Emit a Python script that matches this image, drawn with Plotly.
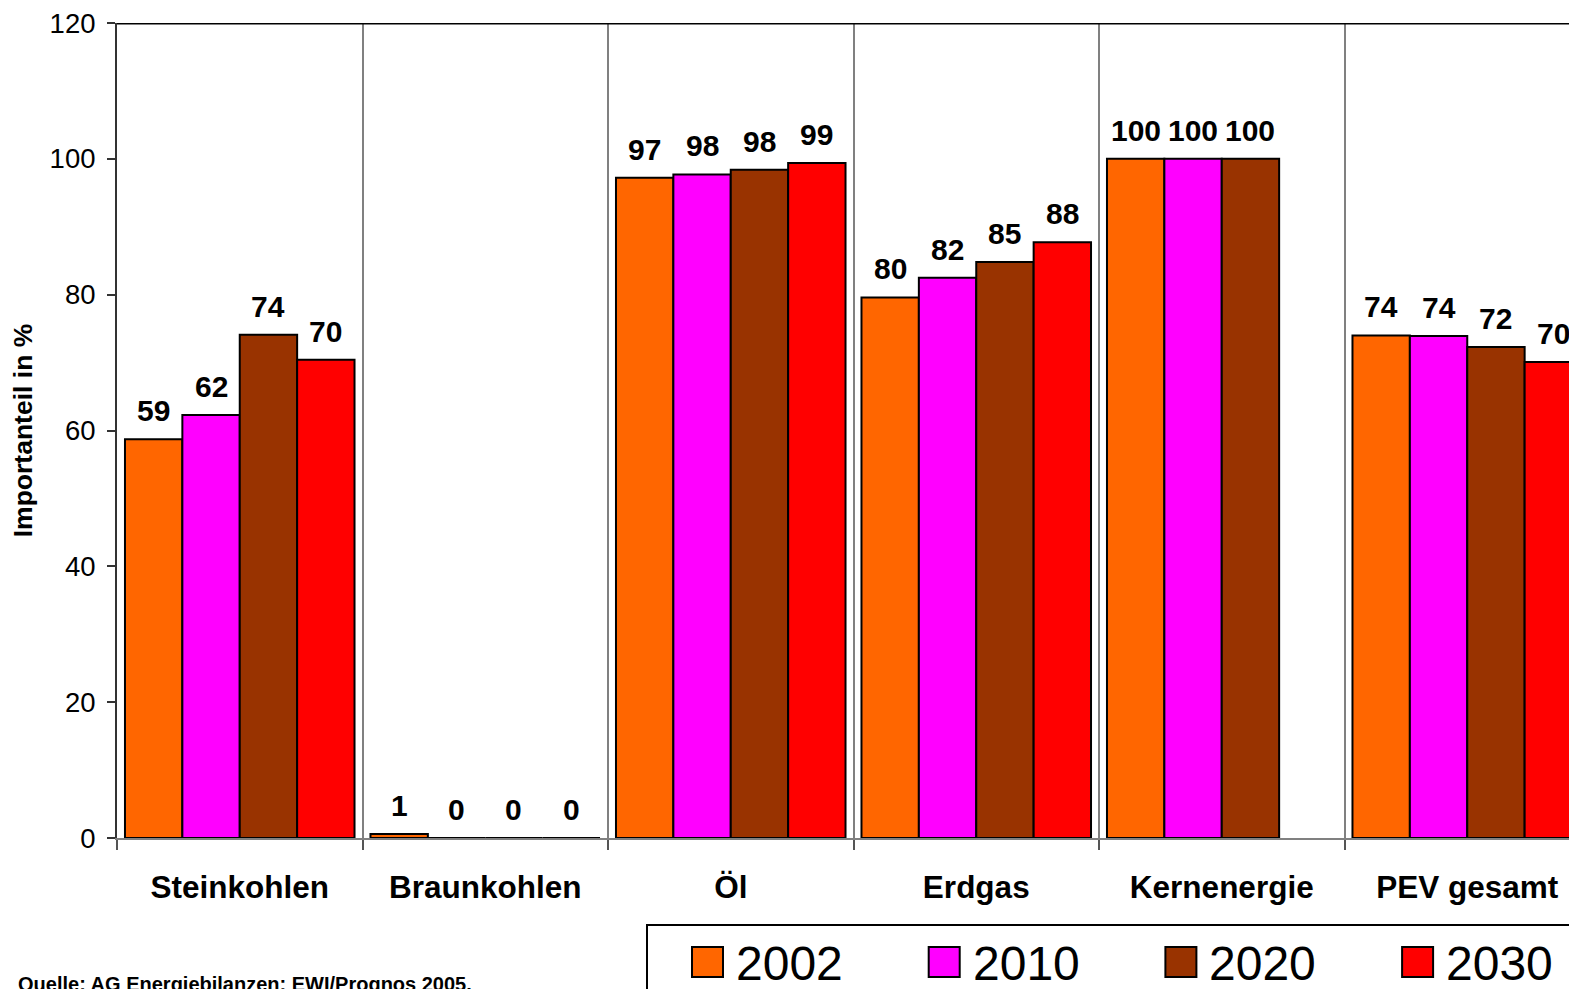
import plotly.graph_objects as go

categories = ["Steinkohlen", "Braunkohlen", "Öl", "Erdgas", "Kernenergie", "PEV gesamt"]
years = ["2002", "2010", "2020", "2030"]
values_2002 = [58.7, 0.6, 97.2, 79.6, 100.0, 74.0]
values_2010 = [62.3, 0.0, 97.7, 82.5, 100.0, 73.9]
values_2020 = [74.1, 0.0, 98.4, 84.8, 100.0, 72.3]
values_2030 = [70.4, 0.0, 99.4, 87.7, None, 70.1]
series = [values_2002, values_2010, values_2020, values_2030]
colors = ["#FF6600", "#FF00FF", "#993300", "#FF0000"]
source_text = "Quelle: AG Energiebilanzen; EWI/Prognos 2005."

OFF = 8  # page body margin
W, H = 1577 - OFF, 989 - OFF
L, T, B = 117 - OFF, 23 - OFF, 838 - OFF
FONT = "Liberation Sans, Arial, sans-serif"
BARGAP = 0.065
CAT_W = 245.5


def px(xp):
    return (xp - OFF - L) / (W - L)


def py(yp):
    return (B - (yp - OFF)) / (B - T)


fig = go.Figure()
for name, vals, col in zip(years, series, colors):
    fig.add_trace(go.Bar(
        x=categories, y=vals, name=name,
        marker=dict(color=col, line=dict(color="black", width=2)),
        showlegend=False,
    ))

annotations = []
n = len(series)
w = 1 - BARGAP
for j, vals in enumerate(series):
    for i, v in enumerate(vals):
        if v is None:
            continue
        annotations.append(dict(
            x=i - w / 2 + (j + 0.5) * w / n, y=v, xref="x", yref="y",
            text=f"{v:.0f}", showarrow=False, yanchor="bottom", yshift=10,
            font=dict(family=FONT, size=30, color="black", weight="bold"),
        ))

shapes = [
    dict(type="line", xref="paper", yref="y", x0=0, x1=1, y0=120, y1=120,
         line=dict(color="black", width=3)),
    dict(type="rect", xref="paper", yref="paper", x0=px(647), x1=px(1600),
         y0=py(925), y1=py(1010), line=dict(color="black", width=2),
         fillcolor="white"),
]
step = 236.7
for k, (name, col) in enumerate(zip(years, colors)):
    x0 = 692 + k * step
    shapes.append(dict(type="rect", xref="paper", yref="paper",
                       x0=px(x0), x1=px(x0 + 31), y0=py(977), y1=py(947),
                       line=dict(color="black", width=2), fillcolor=col))
    annotations.append(dict(
        x=px(x0 + 42), y=py(963), xref="paper", yref="paper",
        text=name, showarrow=False, xanchor="left", yanchor="middle",
        font=dict(family=FONT, size=48, color="black"),
    ))

annotations.append(dict(
    x=px(16), y=py(971), xref="paper", yref="paper", text=source_text,
    showarrow=False, xanchor="left", yanchor="top",
    font=dict(family=FONT, size=20, color="black", weight="bold"),
))

fig.update_layout(
    width=W, height=H,
    margin=dict(l=L, r=0, t=T, b=H - B, pad=0),
    paper_bgcolor="white", plot_bgcolor="white",
    barmode="group", bargap=BARGAP, bargroupgap=0,
    shapes=shapes, annotations=annotations,
    font=dict(family=FONT, color="black"),
)
fig.update_xaxes(
    type="category", range=[-0.5, -0.5 + (W - L) / CAT_W],
    tickson="boundaries", ticks="outside", ticklen=10, tickwidth=1.5,
    tickcolor="#555555", showgrid=True, gridcolor="#808080", gridwidth=1.5,
    showline=True, linecolor="#808080", linewidth=2,
    tickfont=dict(family=FONT, size=31.5, color="black", weight="bold"),
    ticklabelstandoff=20, ticklabeloverflow="allow",
)
fig.update_yaxes(
    range=[0, 120], tickvals=[0, 20, 40, 60, 80, 100, 120],
    ticks="outside", ticklen=8, tickwidth=1.5, tickcolor="#333333",
    showgrid=False, zeroline=False,
    showline=True, linecolor="#333333", linewidth=2,
    tickfont=dict(family=FONT, size=27.5, color="black"),
    ticklabelstandoff=6, ticklabeloverflow="allow",
    title=dict(text="Importanteil in %", standoff=10,
               font=dict(family=FONT, size=26.5, color="black", weight="bold")),
)

fig.write_html("out.html")
